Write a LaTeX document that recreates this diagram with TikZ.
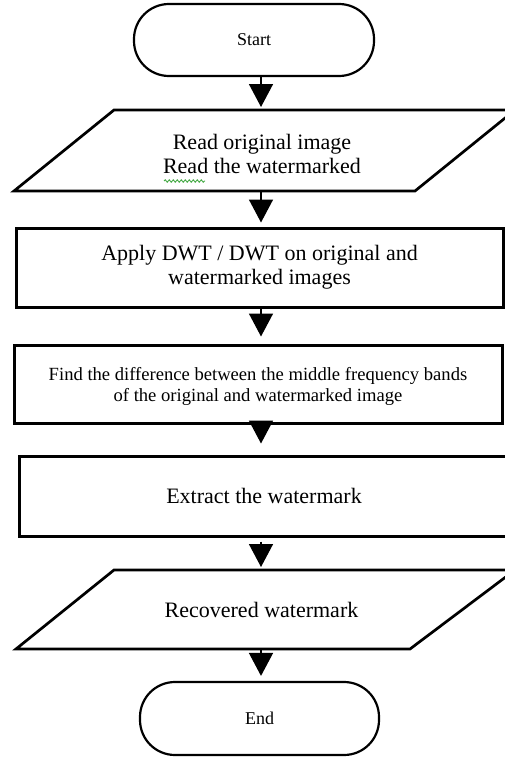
\documentclass[tikz,border=0pt]{standalone}
\usepackage{fontspec}
\setmainfont{Liberation Serif}
\usetikzlibrary{arrows.meta,decorations.pathmorphing}
\definecolor{spellgreen}{RGB}{70,170,70}
\begin{document}
\begin{tikzpicture}[x=1pt,y=-1pt,
  term/.style={draw, line width=2.2pt, rounded corners=35pt, minimum width=240pt, minimum height=72pt, inner sep=0pt, font=\fontsize{18}{20}\selectfont},
  proc/.style={draw, line width=3pt, inner sep=0pt, align=center, font=\fontsize{22}{24}\selectfont},
  io/.style={line width=2.7pt, line join=miter},
  txt/.style={inner sep=0pt, align=center, font=\fontsize{22}{24.5}\selectfont},
  flow/.style={line width=1.6pt, -{Triangle[width=24pt,length=23pt]}}
]
\useasboundingbox (0,0) rectangle (505,760);
\clip (0,0) rectangle (505,760);

% Start
\node[term] (start) at (254,40) {Start};

% Read (input/output)
\draw[io] (114,110) -- (515,110) -- (415,191) -- (14,191) -- cycle;
\coordinate (p1t) at (261,110);
\coordinate (p1b) at (261,191);
\node[txt] (read) at (262,154) {Read original image\\Read the watermarked};
\draw[spellgreen, line width=0.9pt, decorate, decoration={snake, amplitude=1.2pt, segment length=4pt}] (164,181) -- (205,181);

% Apply DWT
\node[proc, minimum width=487pt, minimum height=79pt] (dwt) at (259.5,267.5)
  {Apply DWT / DWT on original and\\watermarked images};

% Find the difference
\node[proc, minimum width=488pt, minimum height=78pt, font=\fontsize{18.6}{21}\selectfont, text depth=0pt] (diff) at (258,384)
  {Find the difference between the middle frequency bands\\of the original and watermarked image};

% Extract
\node[proc, minimum width=490pt, minimum height=80pt] (extr) at (264,496) {Extract the watermark};

% Recovered (input/output)
\draw[io] (114,570) -- (515,570) -- (410,649) -- (16,649) -- cycle;
\coordinate (p2t) at (261,570);
\coordinate (p2b) at (261,649);
\node[txt] (recov) at (261.5,610) {Recovered watermark};

% End
\node[term, minimum width=239pt, minimum height=73pt] (endn) at (259.5,718.5) {End};

% Connectors
\coordinate (ax) at (261,0);
\draw[flow, shorten >=3pt] (start.south -| ax) -- (p1t);
\draw[flow, shorten >=4pt] (p1b) -- (dwt.north -| ax);
\draw[flow, shorten >=7pt] (dwt.south -| ax) -- (diff.north -| ax);
\draw[flow, shorten >=11pt] (diff.south -| ax) -- (extr.north -| ax);
\draw[flow, shorten <=4pt, shorten >=3pt] (extr.south -| ax) -- (p2t);
\draw[flow, shorten >=5pt] (p2b) -- (endn.north -| ax);
\end{tikzpicture}
\end{document}
